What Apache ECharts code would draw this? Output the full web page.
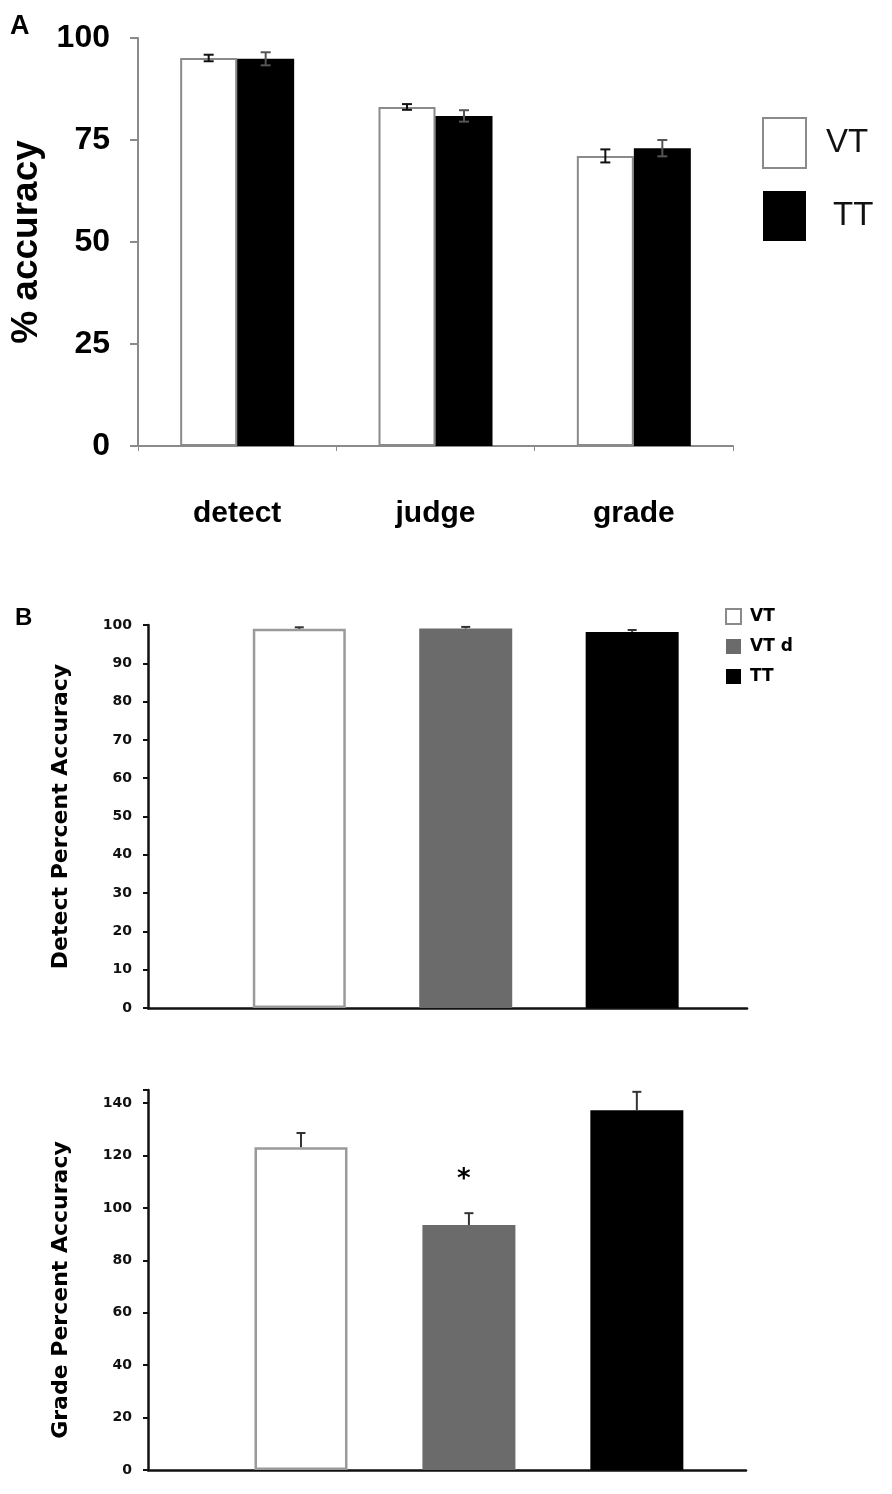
<!DOCTYPE html>
<html>
<head>
<meta charset="utf-8">
<script src="https://cdn.jsdelivr.net/npm/echarts@6/dist/echarts.min.js"></script>
<style>html,body{margin:0;padding:0;background:#fff}#c{width:892px;height:1494px}</style>
</head>
<body>
<div id="c"></div>
<script>
// ---------- Panel A data ----------
const catsA = ['detect', 'judge', 'grade'];
const vtA = [95.1, 83.1, 71.1];
const vtAErr = [0.8, 0.7, 1.6];
const ttA = [94.9, 80.9, 73.0];
const ttAErr = [1.6, 1.4, 2.0];
const ticksA = [0, 25, 50, 75, 100];

// ---------- Panel B (Detect) data ----------
const groupsB = ['VT', 'VT d', 'TT'];
const detectVals = [99.0, 99.1, 98.2];
const detectErr = [0.4, 0.4, 0.5];

// ---------- Panel C (Grade) data ----------
const gradeVals = [123.2, 93.5, 137.3];
const gradeErr = [5.4, 4.5, 7.0];
const sigMarks = [[0.97, 110.5, '*']];

const FONT_A = 'Liberation Sans';
const FONT_B = 'DejaVu Sans';
const colorsB = ['#ffffff', '#6b6b6b', '#000000'];

function errRender(offset, capW, both, color) {
  return function (params, api) {
    const x = api.value(0), v = api.value(1), e = api.value(2);
    const top = api.coord([x, v + e]);
    const mid = api.coord([x, v]);
    const bot = both ? api.coord([x, v - e]) : mid;
    const cx = top[0] + offset;
    const st = { stroke: color, lineWidth: 2 };
    const ch = [
      { type: 'line', shape: { x1: cx, y1: top[1], x2: cx, y2: bot[1] }, style: st },
      { type: 'line', shape: { x1: cx - capW / 2, y1: top[1], x2: cx + capW / 2, y2: top[1] }, style: st }
    ];
    if (both) ch.push({ type: 'line', shape: { x1: cx - capW / 2, y1: bot[1], x2: cx + capW / 2, y2: bot[1] }, style: st });
    return { type: 'group', children: ch };
  };
}

const chart = echarts.init(document.getElementById('c'), null, { renderer: 'canvas' });

const series = [];
// Panel A bars
series.push({
  name: 'VT', type: 'bar', xAxisIndex: 0, yAxisIndex: 0, data: vtA,
  barWidth: 57, barGap: '0%',
  itemStyle: { color: '#ffffff', borderColor: '#8a8a8a', borderWidth: 2 }, silent: true
});
series.push({
  name: 'TT', type: 'bar', xAxisIndex: 0, yAxisIndex: 0, data: ttA,
  barWidth: 57, barGap: '0%',
  itemStyle: { color: '#000000' }, silent: true
});
series.push({
  type: 'custom', xAxisIndex: 0, yAxisIndex: 0, z: 5, silent: true,
  renderItem: errRender(-28.5, 10, true, '#111'),
  data: vtA.map((v, i) => [i, v, vtAErr[i]])
});
series.push({
  type: 'custom', xAxisIndex: 0, yAxisIndex: 0, z: 5, silent: true,
  renderItem: errRender(28.5, 10, true, '#555'),
  data: ttA.map((v, i) => [i, v, ttAErr[i]])
});

// Panel B & C bars (one series per group, overlapping offsets)
[[1, detectVals, detectErr], [2, gradeVals, gradeErr]].forEach(([gi, vals, errs]) => {
  groupsB.forEach((g, i) => {
    series.push({
      name: g, type: 'bar', xAxisIndex: gi, yAxisIndex: gi,
      data: [[i, vals[i]]], barWidth: 93, barGap: '-100%', silent: true,
      itemStyle: i === 0 ? { color: colorsB[i], borderColor: '#9a9a9a', borderWidth: 2.5 } : { color: colorsB[i] }
    });
  });
  series.push({
    type: 'custom', xAxisIndex: gi, yAxisIndex: gi, z: 5, silent: true,
    renderItem: errRender(0, 9, false, '#333'),
    data: vals.map((v, i) => [i, v, errs[i]])
  });
});
// significance star
series.push({
  type: 'custom', xAxisIndex: 2, yAxisIndex: 2, silent: true,
  renderItem: function (params, api) {
    const p = api.coord([api.value(0), api.value(1)]);
    return { type: 'text', x: p[0], y: p[1], style: { text: sigMarks[params.dataIndex][2], fontSize: 26, fontFamily: FONT_B, fontWeight: 'bold', fill: '#000', align: 'center', verticalAlign: 'middle' } };
  },
  data: sigMarks.map(d => [d[0], d[1]])
});

const yAxisB = (name, max, interval, gap, pad) => ({
  type: 'value', min: 0, max: max, interval: interval,
  name: name, nameLocation: 'middle', nameGap: gap, nameRotate: 90,
  nameTextStyle: { fontFamily: FONT_B, fontWeight: 'bold', fontSize: 22, color: '#000', padding: pad },
  axisLine: { show: true, onZero: false, lineStyle: { color: '#111', width: 2.5 } },
  axisTick: { show: true, length: 5, lineStyle: { color: '#111', width: 2 } },
  axisLabel: { fontFamily: FONT_B, fontWeight: 'bold', fontSize: 14, color: '#111', margin: 16,
    formatter: v => (v % interval === 0 ? String(v) : '') },
  splitLine: { show: false }
});
const xAxisB = (min, max) => ({
  type: 'value', min: min, max: max,
  axisLine: { show: true, onZero: false, lineStyle: { color: '#111', width: 2.5 } },
  axisTick: { show: false }, axisLabel: { show: false }, splitLine: { show: false }
});

chart.setOption({
  animation: false,
  backgroundColor: '#ffffff',
  title: [
    { text: 'A', left: 5, top: 8, textStyle: { fontFamily: FONT_A, fontWeight: 'bold', fontSize: 27, color: '#000' } },
    { text: 'B', left: 10, top: 601, textStyle: { fontFamily: FONT_A, fontWeight: 'bold', fontSize: 24, color: '#000' } }
  ],
  legend: [
    {
      orient: 'vertical', left: 762, top: 117, padding: 0, itemWidth: 43, itemHeight: 50, itemGap: 22,
      icon: 'rect', selectedMode: false,
      textStyle: { fontFamily: FONT_A, fontSize: 33, color: '#111', padding: [0, 0, 0, 15] },
      data: [{ name: 'VT' }, { name: 'TT', textStyle: { padding: [0, 0, 0, 22] } }]
    },
    {
      orient: 'vertical', left: 725, top: 608, padding: 0, itemWidth: 15, itemHeight: 15, itemGap: 13,
      icon: 'rect', selectedMode: false,
      textStyle: { fontFamily: FONT_B, fontWeight: 'bold', fontSize: 17, color: '#000', padding: [0, 0, 0, 4] },
      data: groupsB
    }
  ],
  grid: [
    { left: 138, top: 38, width: 595, height: 408 },
    { left: 148, top: 625, width: 599, height: 383 },
    { left: 148, top: 1090, width: 598, height: 380 }
  ],
  xAxis: [
    {
      gridIndex: 0, type: 'category', data: catsA,
      axisLine: { lineStyle: { color: '#8a8a8a', width: 2 } },
      axisTick: { show: true, length: 5, lineStyle: { color: '#8a8a8a' } },
      axisLabel: { fontFamily: FONT_A, fontWeight: 'bold', fontSize: 30, color: '#000', margin: 53 }
    },
    Object.assign({ gridIndex: 1 }, xAxisB(-0.909, 2.69)),
    Object.assign({ gridIndex: 2 }, xAxisB(-0.911, 2.65))
  ],
  yAxis: [
    {
      gridIndex: 0, type: 'value', min: 0, max: 100, interval: 25,
      name: '% accuracy', nameLocation: 'middle', nameGap: 89, nameRotate: 90,
      nameTextStyle: { fontFamily: FONT_A, fontWeight: 'bold', fontSize: 37, color: '#000' },
      axisLine: { show: true, lineStyle: { color: '#8a8a8a', width: 2 } },
      axisTick: { show: true, length: 8, lineStyle: { color: '#8a8a8a', width: 2 } },
      axisLabel: { fontFamily: FONT_A, fontWeight: 'bold', fontSize: 32, color: '#000', margin: 28 },
      splitLine: { show: false }
    },
    Object.assign({ gridIndex: 1 }, yAxisB('Detect Percent Accuracy', 100, 10, 76, [0, 0, 0, 0])),
    Object.assign({ gridIndex: 2 }, yAxisB('Grade Percent Accuracy', 145, 20, 76, [0, 20, 0, 0]))
  ],
  series: series
});
</script>
</body>
</html>
